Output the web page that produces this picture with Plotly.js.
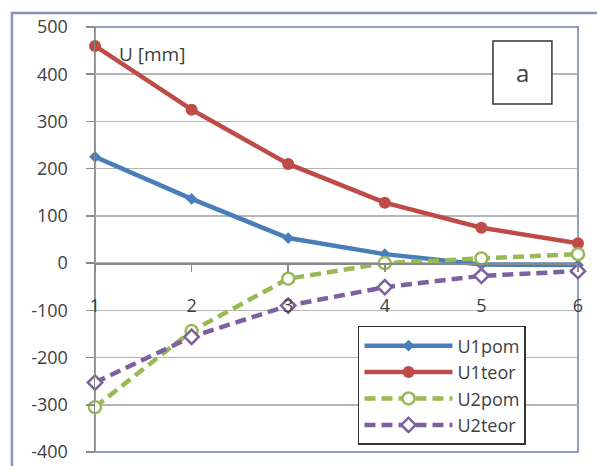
<!DOCTYPE html>
<html>
<head>
<meta charset="utf-8">
<script src="https://cdn.plot.ly/plotly-3.0.1.min.js"></script>
<style>html,body{margin:0;padding:0;background:#fff;}#chart{width:597px;height:466px;}</style>
</head>
<body>
<div id="chart"></div>
<script>
const xValues = [1, 2, 3, 4, 5, 6];
const u1pom = [225, 136, 53, 19, -3, -4];
const u1teor = [460, 325, 210, 128, 75, 42];
const u2pom = [-305, -144, -33, 0, 10, 19];
const u2teor = [-253, -156, -90, -51, -27, -17];
const seriesNames = ['U1pom', 'U1teor', 'U2pom', 'U2teor'];
const yTicks = [500, 400, 300, 200, 100, 0, -100, -200, -300, -400];

const fontFam = '"Open Sans", "Noto Sans", sans-serif';
const dashStyle = '11px,6px';
const txtColor = '#404040';

const traces = [
  {x: xValues, y: u1pom, name: seriesNames[0], mode: 'lines+markers',
   line: {color: '#4a7ebb', width: 4.5}, marker: {symbol: 'diamond', size: 9, color: '#4a7ebb'}, cliponaxis: false},
  {x: xValues, y: u1teor, name: seriesNames[1], mode: 'lines+markers',
   line: {color: '#be4b48', width: 4.5}, marker: {symbol: 'circle', size: 12, color: '#be4b48'}, cliponaxis: false},
  {x: xValues, y: u2pom, name: seriesNames[2], mode: 'lines+markers',
   line: {color: '#98b954', width: 4.5, dash: dashStyle}, marker: {symbol: 'circle', size: 12, color: '#ffffff', line: {color: '#98b954', width: 2.5}}, cliponaxis: false},
  {x: xValues, y: u2teor, name: seriesNames[3], mode: 'lines+markers',
   line: {color: '#7d60a0', width: 4.5, dash: dashStyle}, marker: {symbol: 'diamond', size: 11, color: '#ffffff', line: {color: '#7d60a0', width: 2.5}}, cliponaxis: false}
];

const layout = {
  width: 597, height: 466,
  margin: {l: 95, r: 19, t: 27, b: 14},
  paper_bgcolor: '#ffffff', plot_bgcolor: '#ffffff',
  font: {family: fontFam, size: 18, color: txtColor},
  showlegend: true,
  legend: {x: 0.5445, y: 0.2965, xanchor: 'left', yanchor: 'top',
    bgcolor: '#ffffff', bordercolor: '#333333', borderwidth: 1.5,
    itemwidth: 88,
    font: {family: fontFam, size: 18, color: txtColor}, tracegroupgap: 0},
  xaxis: {
    range: [1, 6], tickvals: xValues, ticktext: xValues.map(String),
    anchor: 'free', position: 400 / 900,
    showgrid: false, zeroline: false, showline: true, linecolor: '#8a8a8a', linewidth: 1.5,
    ticks: 'outside', ticklen: 7, tickcolor: '#8a8a8a', tickwidth: 1.5,
    ticklabelstandoff: 19,
    tickfont: {family: fontFam, size: 18, color: txtColor}
  },
  yaxis: {
    range: [-400, 500], tickvals: yTicks, ticktext: yTicks.map(String),
    showgrid: true, gridcolor: '#b5b5b5', gridwidth: 1.5,
    zeroline: false, showline: true, linecolor: '#8a8a8a', linewidth: 1.5,
    ticks: 'outside', ticklen: 8, tickcolor: '#8a8a8a', tickwidth: 1.5,
    ticklabelstandoff: 14,
    tickfont: {family: fontFam, size: 18, color: txtColor}
  },
  shapes: [
    {type: 'path', xref: 'paper', yref: 'paper', layer: 'below',
     path: 'M -0.172 -0.1 L -0.172 1.033 L 1.1 1.033', line: {color: '#8797b3', width: 2.5}},
    {type: 'rect', xref: 'paper', yref: 'paper', layer: 'below',
     x0: 0, x1: 1, y0: 0, y1: 1, line: {color: '#7080a0', width: 1.5}},
    {type: 'rect', xref: 'paper', yref: 'paper', layer: 'above',
     x0: 0.824, x1: 0.946, y0: 0.819, y1: 0.967, fillcolor: '#ffffff', line: {color: '#333333', width: 1.5}}
  ],
  annotations: [
    {text: 'U [mm]', xref: 'paper', yref: 'paper', x: 0.045, y: 0.937, xanchor: 'left', yanchor: 'middle',
     showarrow: false, font: {family: fontFam, size: 19, color: txtColor}},
    {text: 'a', xref: 'paper', yref: 'paper', x: 0.885, y: 0.894, xanchor: 'center', yanchor: 'middle',
     showarrow: false, font: {family: fontFam, size: 24, color: txtColor}}
  ]
};

Plotly.newPlot('chart', traces, layout, {displayModeBar: false, staticPlot: true});
</script>
</body>
</html>
